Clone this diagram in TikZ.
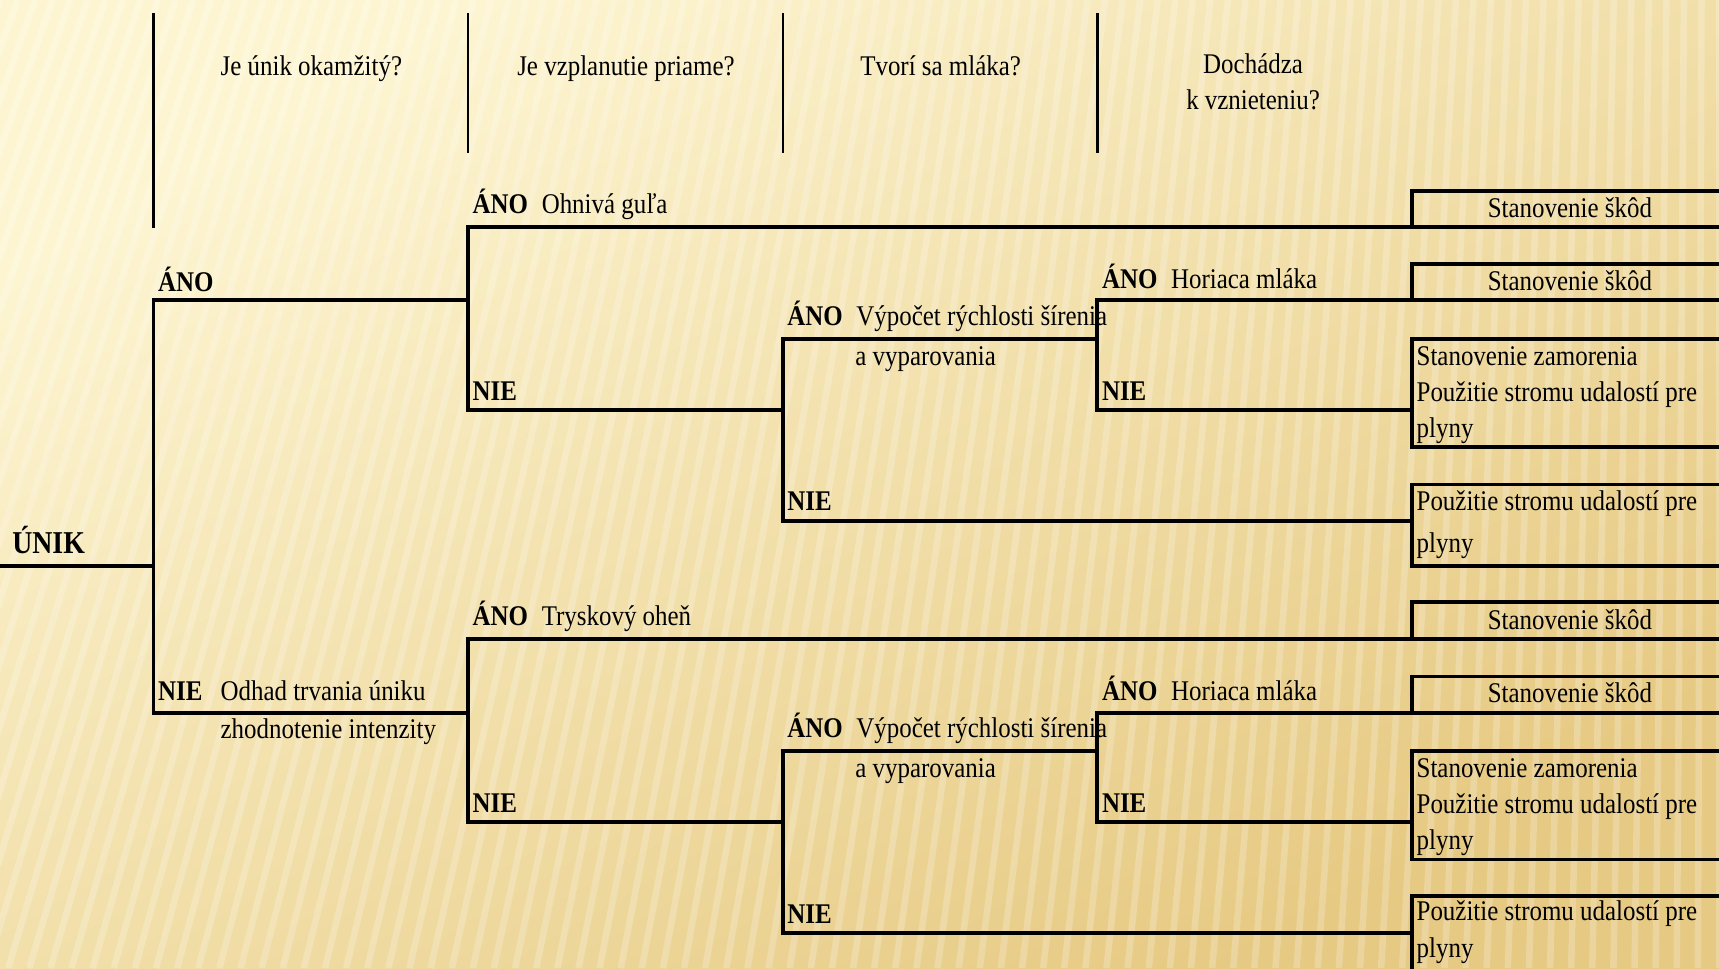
\documentclass[tikz,border=0pt]{standalone}
\usepackage{fontspec}
\setmainfont[FakeStretch=0.875]{Liberation Serif}
\usetikzlibrary{positioning}
\definecolor{papertop}{HTML}{FDF5D2}
\definecolor{paperbot}{HTML}{E6C982}
\tikzset{
tree/.style={line width=3.5pt, line join=miter}, % branches and outcome boxes
head/.style={line width=2.2pt}, % column dividers of the questions
stripe/.style={white, opacity=0.22, line width=6pt}, % texture of the paper
txt/.style={font=\fontsize{26}{33}\selectfont, inner sep=0pt, anchor=base west},
ans/.style={txt, font=\fontsize{26}{33}\selectfont\bfseries},
}

\begin{document}
\begin{tikzpicture}[x=1pt,y=-1pt]
  % background
  \clip (0,0) rectangle (1568,883);
  \shade[top color=papertop, bottom color=paperbot, shading angle=30] (0,0) rectangle (1568,883);
  \foreach \x in {-480,-464,...,1600}
    \draw[stripe] (\x,0) -- ({\x-320*(1-\x/1568)},883);

  % questions
  \draw[head] (140,12) -- (140,208);
  \draw[head] (427,12) -- (427,140);
  \draw[head] (714,12) -- (714,140);
  \draw[head] (1001,12) -- (1001,140);
  \node[txt, anchor=base] (q1) at (284,69) {Je únik okamžitý?};
  \node[txt, anchor=base] (q2) at (571,69) {Je vzplanutie priame?};
  \node[txt, anchor=base] (q3) at (858,69) {Tvorí sa mláka?};
  \node[txt, anchor=base, align=center] (q4) at (1143,100) {Dochádza\\k vznieteniu?};

  % branch points
  \coordinate (leak) at (0,516);
  \coordinate (j0) at (140,516);
  \coordinate (a1) at (140,274);
  \coordinate (n1) at (140,650);
  \coordinate (ja) at (427,274);
  \coordinate (fa) at (427,207);
  \coordinate (fn) at (427,374);
  \coordinate (fe) at (1568,207);
  \coordinate (pa) at (714,309);
  \coordinate (pj) at (714,374);
  \coordinate (pn) at (714,475);
  \coordinate (pe) at (1288,475);
  \coordinate (ia) at (1001,274);
  \coordinate (ij) at (1001,309);
  \coordinate (in) at (1001,374);
  \coordinate (ie) at (1568,274);
  \coordinate (ne) at (1288,374);
  \coordinate (jb) at (427,650);
  \coordinate (gfa) at (427,583);
  \coordinate (gfn) at (427,750);
  \coordinate (gfe) at (1568,583);
  \coordinate (gpa) at (714,685);
  \coordinate (gpj) at (714,750);
  \coordinate (gpn) at (714,851);
  \coordinate (gpe) at (1288,851);
  \coordinate (gia) at (1001,650);
  \coordinate (gij) at (1001,685);
  \coordinate (gin) at (1001,750);
  \coordinate (gie) at (1568,650);
  \coordinate (gne) at (1288,750);

  \draw[tree] (leak) -- (j0);
  \draw[tree] (ja) -- (a1) -- (n1) -- (jb);
  \draw[tree] (fe) -- (fa) -- (fn) -- (pj);
  \draw[tree] (ij) -- (pa) -- (pn) -- (pe);
  \draw[tree] (ie) -- (ia) -- (in) -- (ne);
  \draw[tree] (gfe) -- (gfa) -- (gfn) -- (gpj);
  \draw[tree] (gij) -- (gpa) -- (gpn) -- (gpe);
  \draw[tree] (gie) -- (gia) -- (gin) -- (gne);

  % outcome boxes, open to the right
  \draw[tree] (1568,174) -- (1288,174) -- (1288,207);
  \draw[tree] (1568,241) -- (1288,241) -- (1288,274);
  \draw[tree] (1568,309) -- (1288,309) -- (1288,408) -- (1568,408);
  \draw[tree] (1568,442) -- (1288,442) -- (1288,516) -- (1568,516);
  \draw[tree] (1568,549) -- (1288,549) -- (1288,583);
  \draw[tree] (1568,617) -- (1288,617) -- (1288,650);
  \draw[tree] (1568,685) -- (1288,685) -- (1288,784) -- (1568,784);
  \draw[tree] (1568,817) -- (1288,817) -- (1288,893) -- (1568,893);
  \node[txt, anchor=base] (o1) at (1432,198) {Stanovenie škôd};
  \node[txt, anchor=base] (o2) at (1432,265) {Stanovenie škôd};
  \node[txt, align=left] (o3) at (1292,399) {Stanovenie zamorenia\\Použitie stromu udalostí pre\\plyny};
  \node[txt, align=left] (o4) at (1292,504) {Použitie stromu udalostí pre\\[5pt]plyny};
  \node[txt, anchor=base] (o5) at (1432,574) {Stanovenie škôd};
  \node[txt, anchor=base] (o6) at (1432,641) {Stanovenie škôd};
  \node[txt, align=left] (o7) at (1292,775) {Stanovenie zamorenia\\Použitie stromu udalostí pre\\plyny};
  \node[txt, align=left] (o8) at (1292,873) {Použitie stromu udalostí pre\\plyny};

  % answers
  \node[ans, font=\fontsize{29}{34}\selectfont\bfseries] (unik) at (11,505) {ÚNIK};
  \node[ans] (ya1) at (144,266) {ÁNO};
  \node[ans] (no1) at (144,639) {NIE};
  \node[txt] (dur) at (201,639) {Odhad trvania úniku};
  \node[txt] (int) at (201,674) {zhodnotenie intenzity};
  \node[ans] (ya2) at (431,195) {ÁNO};
  \node[txt, base right=12pt of ya2] (ball) {Ohnivá guľa};
  \node[ans] (no2) at (431,365) {NIE};
  \node[ans] (ya3) at (718,297) {ÁNO};
  \node[txt, base right=12pt of ya3] (calc) {Výpočet rýchlosti šírenia};
  \node[txt] (vap) at (780,333) {a vyparovania};
  \node[ans] (no3) at (718,466) {NIE};
  \node[ans] (ya4) at (1005,263) {ÁNO};
  \node[txt, base right=12pt of ya4] (pool) {Horiaca mláka};
  \node[ans] (no4) at (1005,365) {NIE};
  \node[ans] (ya5) at (431,571) {ÁNO};
  \node[txt, base right=12pt of ya5] (jet) {Tryskový oheň};
  \node[ans] (no5) at (431,741) {NIE};
  \node[ans] (ya6) at (718,673) {ÁNO};
  \node[txt, base right=12pt of ya6] (calc2) {Výpočet rýchlosti šírenia};
  \node[txt] (vap2) at (780,709) {a vyparovania};
  \node[ans] (no6) at (718,842) {NIE};
  \node[ans] (ya7) at (1005,639) {ÁNO};
  \node[txt, base right=12pt of ya7] (pool2) {Horiaca mláka};
  \node[ans] (no7) at (1005,741) {NIE};
\end{tikzpicture}
\end{document}
